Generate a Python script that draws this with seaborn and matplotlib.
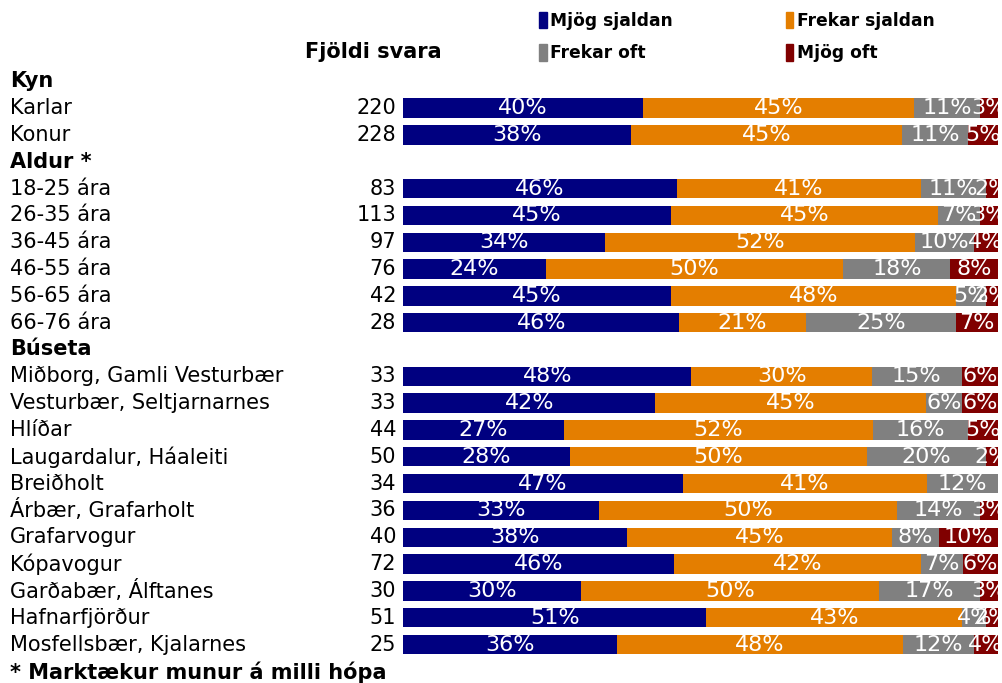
import pandas as pd
import seaborn as sns
import matplotlib.pyplot as plt
import numpy as np
from matplotlib.patches import Patch
from matplotlib.transforms import blended_transform_factory

# data
groups = ["Kyn", "Aldur *", "Búseta"]
rows_kyn = ["Karlar", "Konur"]
rows_aldur = ["18-25 ára", "26-35 ára", "36-45 ára", "46-55 ára", "56-65 ára", "66-76 ára"]
rows_buseta = ["Miðborg, Gamli Vesturbær", "Vesturbær, Seltjarnarnes", "Hlíðar",
               "Laugardalur, Háaleiti", "Breiðholt", "Árbær, Grafarholt", "Grafarvogur",
               "Kópavogur", "Garðabær, Álftanes", "Hafnarfjörður", "Mosfellsbær, Kjalarnes"]
fjoldi = [220, 228, 83, 113, 97, 76, 42, 28, 33, 33, 44, 50, 34, 36, 40, 72, 30, 51, 25]
mjog_sjaldan = [40, 38, 46, 45, 34, 24, 45, 46, 48, 42, 27, 28, 47, 33, 38, 46, 30, 51, 36]
frekar_sjaldan = [45, 45, 41, 45, 52, 50, 48, 21, 30, 45, 52, 50, 41, 50, 45, 42, 50, 43, 48]
frekar_oft = [11, 11, 11, 7, 10, 18, 5, 25, 15, 6, 16, 20, 12, 14, 8, 7, 17, 4, 12]
mjog_oft = [3, 5, 2, 3, 4, 8, 2, 7, 6, 6, 5, 2, 0, 3, 10, 6, 3, 2, 4]
series = ["Mjög sjaldan", "Frekar sjaldan", "Frekar oft", "Mjög oft"]
colors = ["#000080", "#E47E00", "#808080", "#800000"]

rows = rows_kyn + rows_aldur + rows_buseta
order = [groups[0]] + rows_kyn + [groups[1]] + rows_aldur + [groups[2]] + rows_buseta

df = pd.DataFrame({"row": rows, "n": fjoldi, series[0]: mjog_sjaldan,
                   series[1]: frekar_sjaldan, series[2]: frekar_oft, series[3]: mjog_oft})
vals = df[series].astype(float)
vals = vals.div(vals.sum(axis=1), axis=0) * 100   # 100% stacked
cum = vals.cumsum(axis=1)

sns.set_style("white")
plt.rcParams["font.family"] = ["DejaVu Sans"]
plt.rcParams["text.color"] = "black"

fig = plt.figure(figsize=(10.03, 6.83), dpi=100)
ax = fig.add_axes([0.4018, 0.0366, 0.5932, 0.8641])

# stacked bars: draw cumulative totals from the back to the front
for i in range(3, -1, -1):
    sns.barplot(x=cum[series[i]], y=df["row"], order=order, orient="h", color=colors[i],
                saturation=1, width=0.72, linewidth=0, ax=ax)

ax.set_xlim(0, 100)
ax.set_ylim(len(order) - 0.5, -0.5)
ax.set_xlabel("")
ax.set_ylabel("")
ax.set_xticks([])
ax.set_yticks([])
sns.despine(ax=ax, left=True, bottom=True)

raw = df[series].values
for r, name in enumerate(rows):
    pos = order.index(name)
    for i in range(4):
        if raw[r, i] == 0:
            continue
        center = cum.iloc[r, i] - vals.iloc[r, i] / 2
        ax.text(center, pos, f"{raw[r, i]}%", color="white", fontsize=16,
                ha="center", va="center")

trans = blended_transform_factory(fig.transFigure, ax.transData)
for pos, name in enumerate(order):
    if name in groups:
        ax.text(0.010, pos, name, transform=trans, fontsize=15, fontweight="bold",
                ha="left", va="center")
    else:
        r = rows.index(name)
        ax.text(0.010, pos, name, transform=trans, fontsize=15, ha="left", va="center")
        ax.text(0.395, pos, str(fjoldi[r]), transform=trans, fontsize=15,
                ha="right", va="center")

fig.text(0.372, 1 - 52 / 683, "Fjöldi svara", fontsize=15, fontweight="bold",
         ha="center", va="center")
fig.text(0.010, 1 - 672 / 683, "* Marktækur munur á milli hópa", fontsize=15,
         fontweight="bold", ha="left", va="center")

handles = [Patch(color=colors[i]) for i in [0, 2, 1, 3]]
labels = [series[i] for i in [0, 2, 1, 3]]
fig.legend(handles, labels, ncol=2, loc="upper left", bbox_to_anchor=(0.522, 1.005),
           frameon=False, prop={"weight": "bold", "size": 12.3}, handlelength=0.45,
           handleheight=1.1, handletextpad=0.2, labelspacing=0.83, columnspacing=6.6)

fig.savefig("out.png", dpi=100)
